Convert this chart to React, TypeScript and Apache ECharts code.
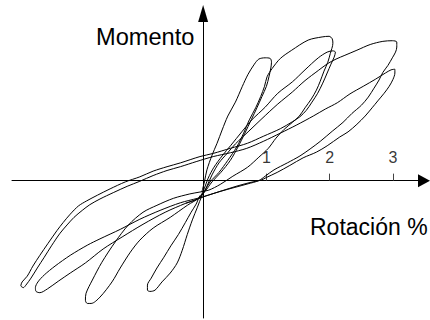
import { useEffect, useRef } from "react";
import * as echarts from "echarts";

const FONT = '"Liberation Sans", Arial, sans-serif';

// Axis extents: rotation in %, moment in normalised units
const ROTATION_MIN = -3.02;
const ROTATION_MAX = 3.49;
const MOMENT_MIN = -2.17;
const MOMENT_MAX = 2.64;

const rotationTicks = [1, 2, 3];

const axisTitles = ["Momento", "Rotación %"];

// Hysteresis record split into half-cycles, each as [rotation, moment]
const toPeakA = [
  [-0.02, -0.18], [0.02, -0.02], [0.06, 0.17], [0.14, 0.4], [0.22, 0.59], [0.3, 0.8],
  [0.39, 1.02], [0.51, 1.24], [0.62, 1.49], [0.71, 1.68], [0.81, 1.84], [0.88, 1.92],
  [0.98, 1.94], [1.06, 1.93],
];

const toValleyA = [
  [1.08, 1.87], [1.07, 1.78], [1.04, 1.64], [1.0, 1.49], [0.93, 1.33], [0.85, 1.15],
  [0.76, 0.96], [0.66, 0.75], [0.55, 0.53], [0.43, 0.32], [0.28, 0.13], [0.14, -0.02],
  [0.03, -0.17], [-0.05, -0.24], [-0.11, -0.37], [-0.19, -0.5], [-0.28, -0.66],
  [-0.39, -0.85], [-0.51, -1.03], [-0.62, -1.21], [-0.73, -1.38], [-0.82, -1.54],
  [-0.88, -1.65], [-0.88, -1.73], [-0.84, -1.75],
];

const toPeakB = [
  [-0.76, -1.73], [-0.65, -1.6], [-0.52, -1.46], [-0.41, -1.3], [-0.33, -1.1],
  [-0.25, -0.85], [-0.17, -0.62], [-0.09, -0.42], [-0.02, -0.24], [0.03, -0.15],
  [0.11, -0.02], [0.25, 0.13], [0.39, 0.32], [0.53, 0.53], [0.64, 0.75], [0.73, 0.96],
  [0.83, 1.15], [0.91, 1.33], [0.97, 1.49], [1.01, 1.64], [1.09, 1.77], [1.22, 1.93],
  [1.4, 2.06], [1.66, 2.22], [1.88, 2.27], [1.99, 2.28], [2.04, 2.24],
];

const toValleyB = [
  [2.05, 2.17], [2.01, 2.01], [1.97, 1.87], [1.91, 1.73], [1.85, 1.57], [1.79, 1.43],
  [1.71, 1.29], [1.61, 1.15], [1.52, 1.02], [1.41, 0.92], [1.28, 0.81], [1.15, 0.67],
  [1.03, 0.51], [0.88, 0.37], [0.7, 0.21], [0.47, 0.07], [0.27, -0.06], [0.09, -0.15],
  [-0.05, -0.18], [-0.21, -0.21], [-0.47, -0.28], [-0.73, -0.39], [-0.95, -0.5],
  [-1.18, -0.7], [-1.39, -0.97], [-1.6, -1.29], [-1.75, -1.57], [-1.85, -1.78],
  [-1.86, -1.89], [-1.83, -1.94],
];

const toPeakC = [
  [-1.77, -1.94], [-1.63, -1.84], [-1.44, -1.6], [-1.31, -1.38], [-1.15, -1.13],
  [-1.0, -0.94], [-0.79, -0.75], [-0.52, -0.58], [-0.25, -0.39], [-0.05, -0.26],
  [0.02, -0.12], [0.08, 0.04], [0.17, 0.21], [0.3, 0.39], [0.44, 0.56], [0.61, 0.77],
  [0.77, 0.96], [0.98, 1.16], [1.18, 1.38], [1.41, 1.56], [1.61, 1.75], [1.82, 1.94],
  [1.96, 2.03], [2.05, 2.05], [2.09, 2.03],
];

const toValleyC = [
  [2.07, 1.95], [2.02, 1.84], [1.96, 1.7], [1.89, 1.54], [1.81, 1.38], [1.72, 1.24],
  [1.63, 1.11], [1.53, 1.01], [1.41, 0.93], [1.22, 0.82], [0.95, 0.7], [0.7, 0.59],
  [0.43, 0.51], [0.16, 0.43], [-0.05, 0.38], [-0.36, 0.28], [-0.57, 0.22], [-0.79, 0.15],
  [-1.0, 0.06], [-1.23, -0.02], [-1.47, -0.13], [-1.67, -0.23], [-1.84, -0.32],
  [-1.97, -0.4], [-2.1, -0.53], [-2.21, -0.66], [-2.31, -0.79], [-2.45, -0.99],
  [-2.58, -1.18], [-2.69, -1.35], [-2.78, -1.51], [-2.86, -1.6], [-2.88, -1.66],
  [-2.84, -1.69],
];

const toPeakE = [
  [-2.8, -1.65], [-2.72, -1.54], [-2.62, -1.38], [-2.51, -1.21], [-2.39, -1.02],
  [-2.26, -0.83], [-2.15, -0.7], [-2.04, -0.58], [-1.91, -0.47], [-1.79, -0.38],
  [-1.63, -0.29], [-1.42, -0.19], [-1.2, -0.09], [-1.0, -0.01], [-0.79, 0.08],
  [-0.57, 0.16], [-0.36, 0.22], [-0.11, 0.3], [0.16, 0.38], [0.43, 0.44], [0.69, 0.51],
  [0.95, 0.62], [1.22, 0.75], [1.48, 0.88], [1.74, 1.02], [1.93, 1.13], [2.12, 1.23],
  [2.32, 1.37], [2.53, 1.49], [2.72, 1.6], [2.88, 1.7], [2.97, 1.75], [3.03, 1.76],
];

const toValleyD = [
  [3.03, 1.7], [3.0, 1.6], [2.94, 1.49], [2.86, 1.38], [2.76, 1.26], [2.67, 1.15],
  [2.56, 1.02], [2.43, 0.89], [2.29, 0.77], [2.16, 0.69], [1.96, 0.55], [1.79, 0.45],
  [1.58, 0.36], [1.37, 0.24], [1.17, 0.13], [1.0, 0.05], [0.92, 0.01], [0.74, -0.03],
  [0.52, -0.09], [0.3, -0.16], [0.08, -0.23], [-0.09, -0.28], [-0.36, -0.35],
  [-0.68, -0.47], [-1.0, -0.61], [-1.31, -0.77], [-1.63, -0.92], [-1.83, -1.02],
  [-2.1, -1.18], [-2.34, -1.35], [-2.51, -1.49], [-2.61, -1.6], [-2.65, -1.69],
  [-2.64, -1.75],
];

const toPeakD = [
  [-2.58, -1.77], [-2.46, -1.71], [-2.29, -1.59], [-2.1, -1.46], [-1.86, -1.3],
  [-1.58, -1.08], [-1.28, -0.89], [-0.95, -0.69], [-0.6, -0.5], [-0.28, -0.36],
  [-0.09, -0.29], [0.0, -0.21], [0.06, -0.09], [0.14, 0.09], [0.25, 0.28], [0.38, 0.43],
  [0.51, 0.58], [0.71, 0.77], [0.93, 0.98], [1.18, 1.21], [1.41, 1.4], [1.61, 1.58],
  [1.82, 1.74], [1.97, 1.85], [2.1, 1.92], [2.24, 1.98], [2.43, 2.06], [2.64, 2.15],
  [2.84, 2.2], [2.99, 2.21], [3.06, 2.19],
];

const unloadD = [
  [3.06, 2.11], [3.04, 2.03], [2.99, 1.94], [2.92, 1.82], [2.84, 1.71], [2.78, 1.59],
  [2.7, 1.46], [2.61, 1.32], [2.5, 1.19], [2.35, 1.06], [2.21, 0.92], [2.04, 0.78],
  [1.85, 0.62], [1.69, 0.5], [1.53, 0.39], [1.33, 0.28], [1.12, 0.17], [0.98, 0.07],
  [0.88, 0.0], [0.71, -0.05], [0.49, -0.11], [0.27, -0.17], [0.05, -0.24],
  [-0.11, -0.3], [-0.28, -0.36],
];

const halfCycles = [
  toPeakA, toValleyA, toPeakB, toValleyB, toPeakC, toValleyC,
  toPeakE, toValleyD, toPeakD, unloadD,
];

export default function App() {
  const ref = useRef<HTMLDivElement>(null);

  useEffect(() => {
    if (!ref.current) return;
    const chart = echarts.init(ref.current, undefined, { renderer: "svg" });

    const record: number[][] = [];
    halfCycles.forEach((branch) => branch.forEach((p) => record.push(p)));

    // Tick labels sit just above the rotation axis, which crosses at zero moment
    const tickLabelPoints = rotationTicks.map((v) => [v, 0]);

    chart.setOption({
      animation: false,
      backgroundColor: "#ffffff",
      grid: {
        left: 12,
        right: 6,
        top: 13.5,
        bottom: 2,
        containLabel: false,
        outerBoundsMode: "none",
      },
      xAxis: {
        type: "value",
        min: ROTATION_MIN,
        max: ROTATION_MAX,
        splitLine: { show: false },
        axisLine: {
          show: true,
          onZero: true,
          symbol: ["none", "triangle"],
          symbolSize: [13, 12],
          lineStyle: { color: "#000", width: 1 },
        },
        axisTick: {
          show: true,
          inside: true,
          length: 7,
          customValues: rotationTicks,
          lineStyle: { color: "#444", width: 1 },
        },
        axisLabel: { show: false },
      },
      yAxis: {
        type: "value",
        min: MOMENT_MIN,
        max: MOMENT_MAX,
        splitLine: { show: false },
        axisLine: {
          show: true,
          onZero: true,
          symbol: ["none", "triangle"],
          symbolSize: [10, 17],
          lineStyle: { color: "#000", width: 1 },
        },
        axisTick: { show: false },
        axisLabel: { show: false },
      },
      graphic: [
        {
          type: "text",
          x: 96,
          y: 37,
          silent: true,
          style: {
            text: axisTitles[0],
            fill: "#000",
            font: `23.6px ${FONT}`,
            textAlign: "left",
            textVerticalAlign: "middle",
          },
        },
        {
          type: "text",
          x: 310,
          y: 227,
          silent: true,
          style: {
            text: axisTitles[1],
            fill: "#000",
            font: `23px ${FONT}`,
            textAlign: "left",
            textVerticalAlign: "middle",
          },
        },
      ],
      series: [
        {
          type: "line",
          data: record,
          showSymbol: false,
          smooth: 0.3,
          silent: true,
          lineStyle: { color: "#000", width: 1 },
        },
        {
          type: "scatter",
          data: tickLabelPoints,
          symbolSize: 0,
          silent: true,
          label: {
            show: true,
            position: "top",
            distance: 15.5,
            formatter: (p: any) => String(p.value[0]),
            color: "#000",
            fontSize: 16,
            fontFamily: FONT,
          },
        },
      ],
    });

    return () => chart.dispose();
  }, []);

  return (
    <div
      ref={ref}
      style={{
        position: "absolute",
        left: 0,
        top: 0,
        width: 430,
        height: 320,
        background: "#fff",
      }}
    />
  );
}
